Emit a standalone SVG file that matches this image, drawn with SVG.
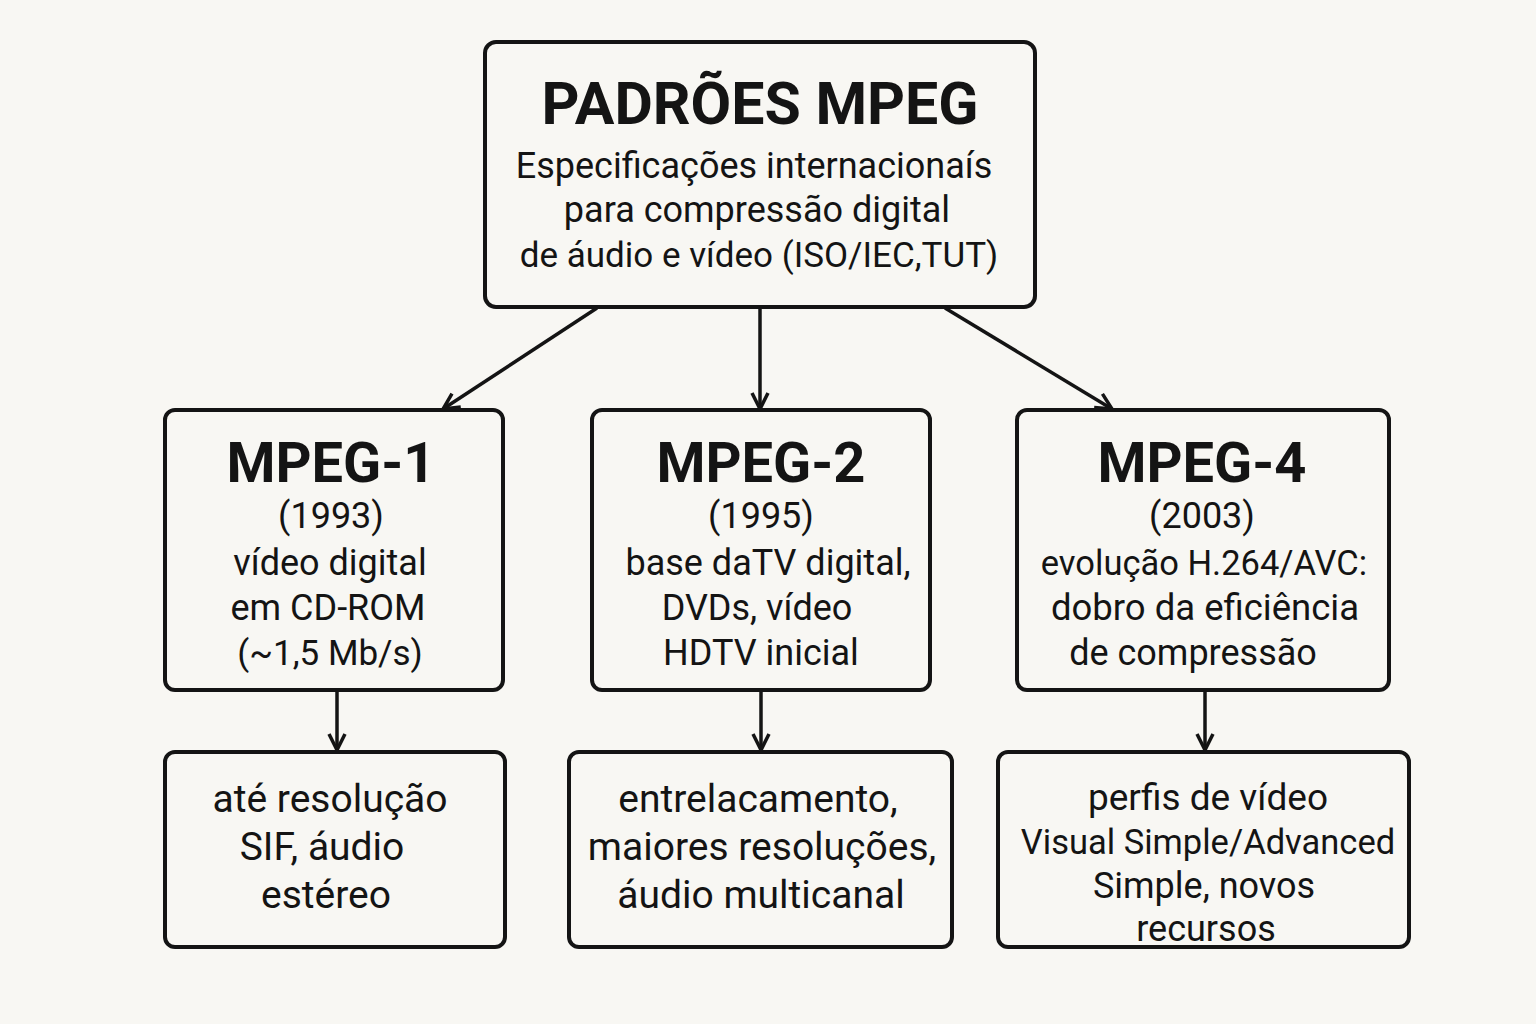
<svg xmlns="http://www.w3.org/2000/svg" width="1536" height="1024" viewBox="0 0 1536 1024">
<defs>
<style>
.box{fill:#f8f7f3;stroke:#141414;stroke-width:4}
.t{font-family:Roboto,"Noto Sans","Liberation Sans",sans-serif;fill:#141414;text-anchor:middle}
.h{font-weight:bold}
.conn line{stroke:#141414;stroke-width:3.5;fill:none}
</style>
<marker id="ah" viewBox="0 0 20 20" refX="18" refY="10" markerWidth="20" markerHeight="20" markerUnits="userSpaceOnUse" orient="auto">
<path d="M2,2 L18,10 L2,18" fill="none" stroke="#141414" stroke-width="3.5"/>
</marker>
</defs>
<rect width="1536" height="1024" fill="#f8f7f3"/>
<g class="conn">
<line x1="597" y1="308" x2="443" y2="409" marker-end="url(#ah)"/>
<line x1="760" y1="308" x2="760" y2="409" marker-end="url(#ah)"/>
<line x1="945" y1="308" x2="1112" y2="409" marker-end="url(#ah)"/>
<line x1="337" y1="690" x2="337" y2="750" marker-end="url(#ah)"/>
<line x1="761" y1="690" x2="761" y2="750" marker-end="url(#ah)"/>
<line x1="1205" y1="690" x2="1205" y2="750" marker-end="url(#ah)"/>
</g>
<g id="root">
<rect class="box" x="485" y="42" width="550" height="265" rx="11"/>
<text class="t h" x="760" y="124" font-size="59">PADRÕES MPEG</text>
<text class="t" x="754" y="178" font-size="36">Especificações internacionaís</text>
<text class="t" x="757" y="222" font-size="36">para compressão digital</text>
<text class="t" x="759" y="267" font-size="35">de áudio e vídeo (ISO/IEC,TUT)</text>
</g>
<g id="mpeg1">
<rect class="box" x="165" y="410" width="338" height="280" rx="10"/>
<text class="t h" x="331" y="482" font-size="56">MPEG-1</text>
<text class="t" x="331" y="528" font-size="36">(1993)</text>
<text class="t" x="330" y="575" font-size="36">vídeo digital</text>
<text class="t" x="328" y="620" font-size="36">em CD-ROM</text>
<text class="t" x="330" y="665" font-size="35">(~1,5 Mb/s)</text>
</g>
<g id="mpeg2">
<rect class="box" x="592" y="410" width="338" height="280" rx="10"/>
<text class="t h" x="761" y="482" font-size="56">MPEG-2</text>
<text class="t" x="761" y="528" font-size="36">(1995)</text>
<text class="t" x="768" y="575" font-size="36">base daTV digital,</text>
<text class="t" x="757" y="620" font-size="36">DVDs, vídeo</text>
<text class="t" x="761" y="665" font-size="36">HDTV inicial</text>
</g>
<g id="mpeg4">
<rect class="box" x="1017" y="410" width="372" height="280" rx="10"/>
<text class="t h" x="1202" y="482" font-size="56">MPEG-4</text>
<text class="t" x="1202" y="528" font-size="36">(2003)</text>
<text class="t" x="1204" y="575" font-size="34.5">evolução H.264/AVC:</text>
<text class="t" x="1205" y="620" font-size="36.5">dobro da eficiência</text>
<text class="t" x="1193" y="665" font-size="36">de compressão</text>
</g>
<g id="d1">
<rect class="box" x="165" y="752" width="340" height="195" rx="10"/>
<text class="t" x="330" y="812" font-size="39">até resolução</text>
<text class="t" x="322" y="860" font-size="39">SIF, áudio</text>
<text class="t" x="326" y="908" font-size="39">estéreo</text>
</g>
<g id="d2">
<rect class="box" x="569" y="752" width="383" height="195" rx="10"/>
<text class="t" x="758" y="812" font-size="39">entrelacamento,</text>
<text class="t" x="762" y="860" font-size="39">maiores resoluções,</text>
<text class="t" x="761" y="908" font-size="39">áudio multicanal</text>
</g>
<g id="d3">
<rect class="box" x="998" y="752" width="411" height="195" rx="10"/>
<text class="t" x="1208" y="810" font-size="37">perfis de vídeo</text>
<text class="t" x="1208" y="854" font-size="34.5">Visual Simple/Advanced</text>
<text class="t" x="1204" y="898" font-size="36">Simple, novos</text>
<text class="t" x="1206" y="941" font-size="36">recursos</text>
</g>
</svg>
